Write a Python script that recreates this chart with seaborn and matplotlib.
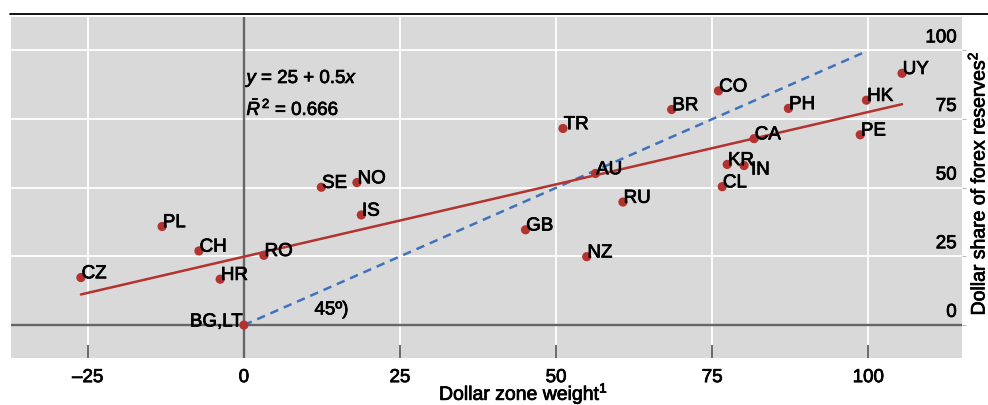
import matplotlib
matplotlib.use("Agg")
import matplotlib.pyplot as plt
from matplotlib.lines import Line2D
import matplotlib.transforms as mtransforms
import matplotlib.patheffects as pe
import numpy as np
import pandas as pd
import seaborn as sns

# ---------------- data ----------------
countries = ["CZ", "PL", "CH", "HR", "BG,LT", "RO", "IS", "SE", "NO", "TR", "AU", "RU",
             "GB", "NZ", "BR", "CO", "KR", "IN", "CL", "CA", "PH", "PE", "HK", "UY"]
dollar_zone_weight = [-26.1, -13.1, -7.2, -3.8, 0.0, 3.2, 18.8, 12.4, 18.1, 51.1, 56.3, 60.7,
                      45.1, 54.9, 68.5, 76.0, 77.4, 80.1, 76.6, 81.7, 87.2, 98.7, 99.7, 105.4]
dollar_share_reserves = [17.3, 35.9, 27.0, 16.7, 0.0, 25.4, 40.1, 50.2, 51.9, 71.6, 55.2, 44.8,
                         34.7, 24.9, 78.5, 85.3, 58.5, 58.1, 50.4, 67.9, 78.9, 69.3, 81.9, 91.7]

reg_intercept = 24.9
reg_slope = 0.527
line45_x = [0, 99]

x_ticks = [-25, 0, 25, 50, 75, 100]
x_tick_labels = ["\u201325", "0", "25", "50", "75", "100"]
y_ticks = [0, 25, 50, 75, 100]
y_tick_labels = ["0", "25", "50", "75", "100"]

equation_text = r"$y$ = 25 + 0.5$x$"
r2_text = r"$\bar{R}^{\,2}$ = 0.666"
angle_text = "45\u00ba)"
x_label = r"Dollar zone weight$^{1}$"
y_label = r"Dollar share of forex reserves$^{2}$"

# ---------------- style ----------------
RED = "#B2332F"
BLUE = "#3E72BE"
BG = "#D9D9D9"
ZERO = "#666666"

sns.set_theme(style="darkgrid", rc={"axes.facecolor": BG, "grid.color": "white",
                                    "grid.linewidth": 1.3})
plt.rcParams["font.family"] = ["Liberation Sans", "DejaVu Sans"]
plt.rcParams["text.color"] = "black"
plt.rcParams["xtick.color"] = "black"
plt.rcParams["ytick.color"] = "black"
plt.rcParams["mathtext.fontset"] = "custom"
plt.rcParams["mathtext.rm"] = "Liberation Sans"
plt.rcParams["mathtext.it"] = "Liberation Sans:italic"
plt.rcParams["mathtext.bf"] = "Liberation Sans:bold"

FS = 13.5
HEAVY = [pe.withStroke(linewidth=0.55, foreground="black")]

df = pd.DataFrame({"country": countries, "x": dollar_zone_weight, "y": dollar_share_reserves})

fig = plt.figure(figsize=(9.88, 4.05), dpi=100)
W, H = 988, 405
ax = fig.add_axes([11 / W, 1 - 358 / H, (962 - 11) / W, (358 - 17) / H])
ax.set_facecolor(BG)
for s in ax.spines.values():
    s.set_visible(False)

ax.set_xlim(-37.3, 115.0)
ax.set_ylim(-12.0, 112.2)
ax.set_xticks(x_ticks)
ax.set_xticklabels(x_tick_labels, fontsize=FS)
for t in ax.get_xticklabels():
    t.set_path_effects(HEAVY)
ax.set_yticks(y_ticks)
ax.set_yticklabels([])
ax.grid(True, color="white", linewidth=1.3)
ax.set_axisbelow(True)
ax.tick_params(axis="x", direction="in", length=9.5, width=1.1, color="#444444",
               pad=8, labelcolor="black", bottom=True)
ax.tick_params(axis="y", left=False, right=True, length=3, width=0.8, color="#bbbbbb",
               labelleft=False, labelright=False)

# zero lines
ax.axhline(0, color=ZERO, lw=1.7, zorder=1.5)
ax.axvline(0, color=ZERO, lw=1.7, zorder=1.5)

# 45-degree line
sns.lineplot(x=line45_x, y=line45_x, ax=ax, color=BLUE, lw=1.8, linestyle=(0, (3.4, 2.4)),
             zorder=2)

# regression line
xr = np.array([min(dollar_zone_weight), max(dollar_zone_weight)])
sns.lineplot(x=xr, y=reg_intercept + reg_slope * xr, ax=ax, color=RED, lw=1.8, zorder=3)

# points
sns.scatterplot(data=df, x="x", y="y", ax=ax, color=RED, s=44, edgecolor="none",
                linewidth=0, zorder=5, legend=False)

# labels
for c, xv, yv in zip(countries, dollar_zone_weight, dollar_share_reserves):
    if c == "BG,LT":
        off, ha = (-1, -1), "right"
    elif c == "IN":
        off, ha = (5, -6.5), "left"
    else:
        off, ha = (0.5, -0.5), "left"
    ax.annotate(c, (xv, yv), xytext=off, textcoords="offset points",
                ha=ha, va="baseline", fontsize=FS, zorder=6, path_effects=HEAVY)

ax.set_xlabel("")
ax.set_ylabel("")

# y tick labels inside on the right, above gridlines
trans = mtransforms.blended_transform_factory(ax.transAxes, ax.transData)
for v, lab in zip(y_ticks, y_tick_labels):
    ax.annotate(lab, (0.9945, v), xycoords=trans, xytext=(0, 3), textcoords="offset points",
                ha="right", va="bottom", fontsize=FS, path_effects=HEAVY)

# annotations
ax.text(0.4, 89.8, equation_text, fontsize=FS, va="center", ha="left", path_effects=HEAVY)
ax.text(0.4, 78.8, r2_text, fontsize=FS, va="center", ha="left", path_effects=HEAVY)
ax.text(11.3, 5.5, angle_text, fontsize=FS, va="center", ha="left", path_effects=HEAVY)

# axis titles
fig.text(439 / W, 1 - 400 / H, x_label, fontsize=14, ha="left", va="baseline",
         path_effects=HEAVY)
fig.text(984.5 / W, 1 - 183 / H, y_label, fontsize=14, ha="center", va="baseline",
         rotation=90, rotation_mode="anchor", path_effects=HEAVY)

# top rule
fig.add_artist(Line2D([10 / W, 1.0], [1 - 14.3 / H] * 2, transform=fig.transFigure,
                      color="black", lw=1.3))

fig.savefig("out.png", dpi=100)
